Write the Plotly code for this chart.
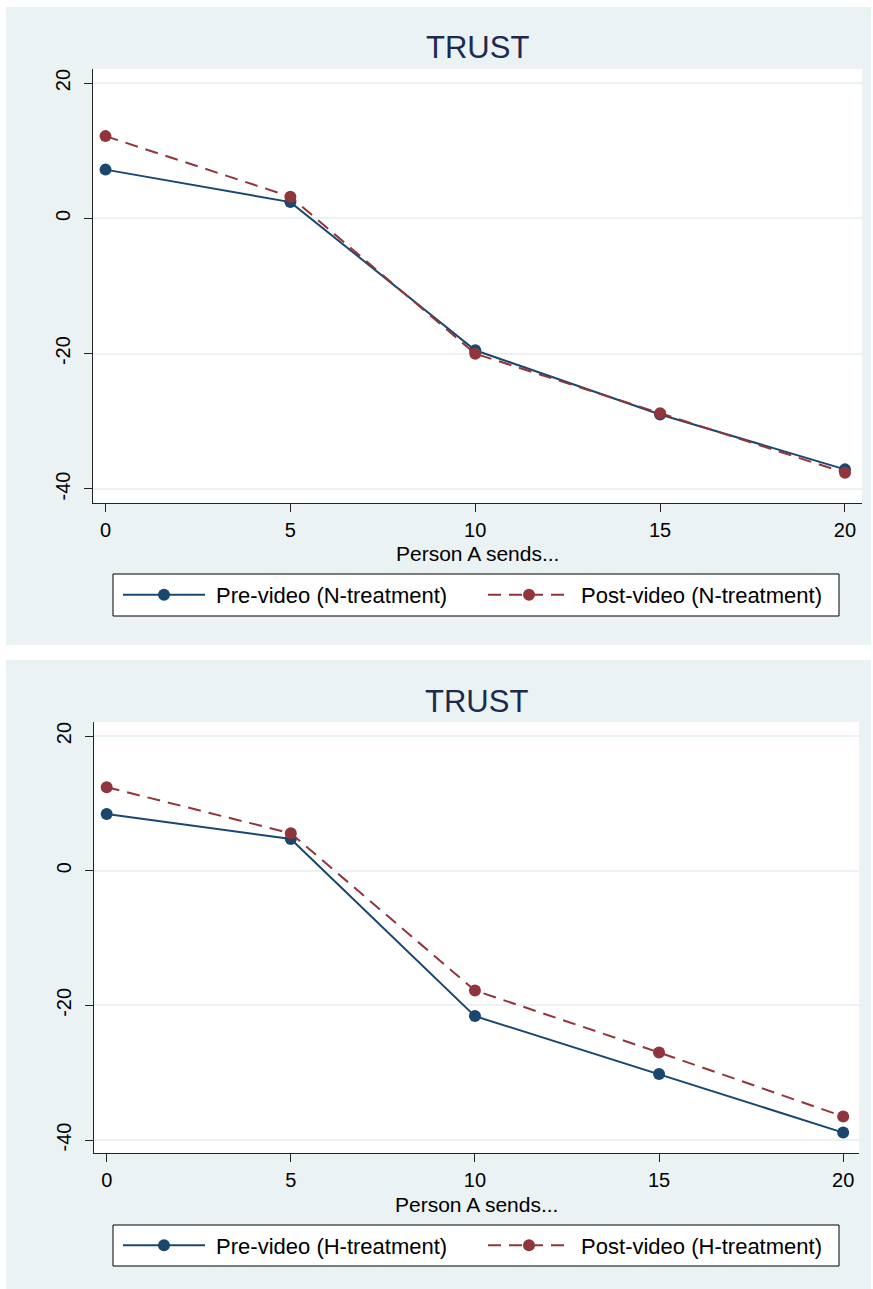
import plotly.graph_objects as go

# ---- data ----
x_sends = [0, 5, 10, 15, 20]
pre_n = [7.2, 2.4, -19.5, -29.0, -37.1]
post_n = [12.15, 3.2, -20.0, -28.8, -37.6]
pre_h = [8.4, 4.7, -21.6, -30.2, -38.9]
post_h = [12.4, 5.55, -17.8, -27.0, -36.5]
y_ticks = [-40, -20, 0, 20]
x_ticks = [0, 5, 10, 15, 20]
title_text = "TRUST"
x_title = "Person A sends..."
names_n = ["Pre-video (N-treatment)", "Post-video (N-treatment)"]
names_h = ["Pre-video (H-treatment)", "Post-video (H-treatment)"]

W, H = 873, 1289
NAVY = "#1A476F"
MAROON = "#90353B"
BG = "#EAF2F3"
FONT = "Liberation Sans"


def fx(p):
    return p / W


def fy(p):
    return 1 - p / H


fig = go.Figure()

panels = [
    dict(pre=pre_n, post=post_n, names=names_n, xa="x", ya="y", leg="legend"),
    dict(pre=pre_h, post=post_h, names=names_h, xa="x2", ya="y2", leg="legend2"),
]
for p in panels:
    fig.add_trace(go.Scatter(
        x=x_sends, y=p["pre"], name="\u00a0" + p["names"][0], mode="lines+markers",
        line=dict(color=NAVY, width=2), marker=dict(color=NAVY, size=12),
        xaxis=p["xa"], yaxis=p["ya"], legend=p["leg"]))
    fig.add_trace(go.Scatter(
        x=x_sends, y=p["post"], name="\u00a0" + p["names"][1], mode="lines+markers",
        line=dict(color=MAROON, width=2, dash="13px,8px"),
        marker=dict(color=MAROON, size=12),
        xaxis=p["xa"], yaxis=p["ya"], legend=p["leg"]))

axis_common = dict(showline=True, linecolor="#222222", linewidth=1,
                   ticks="outside", ticklen=8, tickcolor="#222222",
                   tickfont=dict(family=FONT, size=20, color="black"),
                   zeroline=False)

layout_panels = [
    dict(px0=93, px1=862, py0=69, py1=503, xr=[-0.338, 20.46], yr=[-42.07, 22.07]),
    dict(px0=94, px1=859, py0=722, py1=1153, xr=[-0.345, 20.43], yr=[-41.93, 22.08]),
]
xkeys = ["xaxis", "xaxis2"]
ykeys = ["yaxis", "yaxis2"]
anch = [("y", "x"), ("y2", "x2")]
lay = {}
for i, lp in enumerate(layout_panels):
    lay[xkeys[i]] = dict(domain=[fx(lp["px0"]), fx(lp["px1"])], range=lp["xr"],
                         tickvals=x_ticks, ticktext=[str(v) for v in x_ticks],
                         showgrid=False, anchor=anch[i][0],
                         ticklabelstandoff=1, **axis_common)
    lay[ykeys[i]] = dict(domain=[fy(lp["py1"]), fy(lp["py0"])], range=lp["yr"],
                         tickvals=y_ticks, ticktext=[str(v) for v in y_ticks],
                         showgrid=True, gridcolor=BG, gridwidth=2,
                         tickangle=-90, anchor=anch[i][1], ticklabelstandoff=6,
                         **axis_common)

fig.update_layout(**lay)

shapes = []
# outer light panels
for (y0, y1) in [(7, 645), (660, 1289)]:
    shapes.append(dict(type="rect", xref="paper", yref="paper",
                       x0=fx(6), x1=fx(871), y0=fy(y1), y1=fy(y0),
                       fillcolor=BG, line=dict(width=0), layer="below"))
# white plot regions
for (xr_, yr_) in [("x domain", "y domain"), ("x2 domain", "y2 domain")]:
    shapes.append(dict(type="rect", xref=xr_, yref=yr_, x0=0, x1=1, y0=0, y1=1,
                       fillcolor="white", line=dict(width=0), layer="below"))
# legend boxes
for (y0, y1) in [(574, 616), (1225, 1266)]:
    shapes.append(dict(type="rect", xref="paper", yref="paper",
                       x0=fx(113), x1=fx(839), y0=fy(y1), y1=fy(y0),
                       fillcolor="white", line=dict(width=1, color="black"),
                       layer="above"))

annotations = []
for (cx, ty, xt) in [(477.5, 47.5, 553), (476.5, 701, 1204)]:
    annotations.append(dict(text=title_text, x=fx(cx), y=fy(ty), xref="paper", yref="paper",
                            xanchor="center", yanchor="middle", showarrow=False,
                            font=dict(family=FONT, size=31, color="#1C2A4E")))
    annotations.append(dict(text=x_title, x=fx(cx), y=fy(xt), xref="paper", yref="paper",
                            xanchor="center", yanchor="middle", showarrow=False,
                            font=dict(family=FONT, size=21, color="black")))

legend_common = dict(orientation="h", xanchor="left", yanchor="middle",
                     bgcolor="rgba(0,0,0,0)", borderwidth=0,
                     font=dict(family=FONT, size=22, color="black"),
                     itemwidth=82, entrywidth=268, itemclick=False)

fig.update_layout(
    width=W, height=H,
    margin=dict(l=0, r=0, t=0, b=0),
    paper_bgcolor="white", plot_bgcolor="white",
    shapes=shapes, annotations=annotations,
    legend=dict(x=fx(118), y=fy(595), **legend_common),
    legend2=dict(x=fx(118), y=fy(1245.5), **legend_common),
    showlegend=True,
)

fig.write_html("out.html",
               config={"displayModeBar": False},
               post_script="document.body.style.margin='0px';"
                           "document.body.style.overflow='hidden';")
